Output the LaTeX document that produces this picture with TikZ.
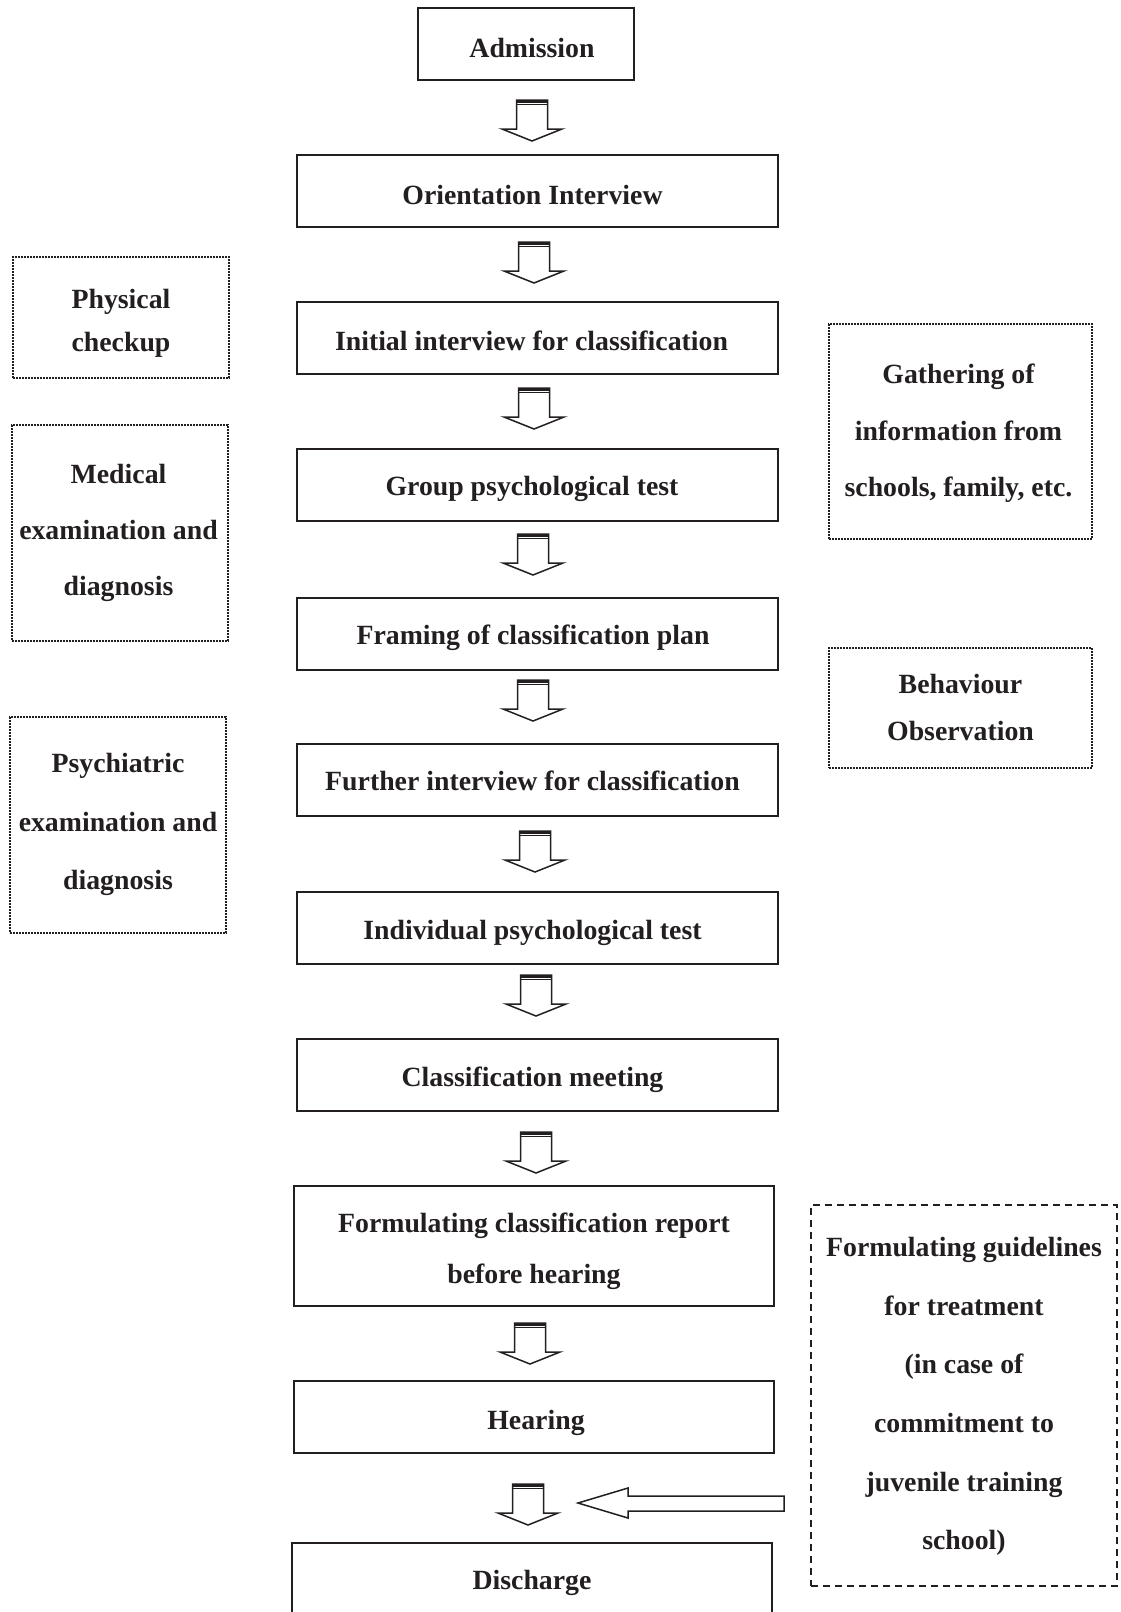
\documentclass[tikz,border=0pt]{standalone}
\usepackage{fontspec}
\setmainfont{Liberation Serif}
\usetikzlibrary{calc}
\definecolor{ink}{RGB}{35,31,32}
% single-line text with a small offset (dx, raise)
\newcommand\tx[3]{\hspace*{#1}\raisebox{#2}[\height][\depth]{#3}\hspace*{-#1}}
% multi-line text with a small offset (dx, raise)
\newcommand\tm[3]{\hspace*{#1}\raisebox{#2}[\height][\depth]{\begin{tabular}{@{}c@{}}#3\end{tabular}}\hspace*{-#1}}
\tikzset{
  every node/.style={text=ink},
  mainbox/.style={draw=ink, line width=1.8pt, inner sep=0pt,
    font=\bfseries\fontsize{27.8}{51}\selectfont},
  dotbox/.style={draw=ink, line width=1.8pt, dash pattern=on 1.6pt off 1.4pt,
    inner sep=0pt},
  dashbox/.style={draw=ink, line width=1.6pt, dash pattern=on 7pt off 5pt,
    inner sep=0pt},
  lsp/.style={font=\bfseries\fontsize{27.8}{#1}\selectfont},
  arrline/.style={draw=ink, line width=1.5pt, line join=miter, fill=white},
  blockdown/.pic={
    \draw[arrline] (-15.5,0) -- (-15.5,29) -- (-30,29) -- (0,41) -- (30,29) -- (15.5,29) -- (15.5,0) -- cycle;
    \draw[ink, line width=3pt] (-15.5,1.5) -- (15.5,1.5);
    \draw[ink, line width=1.2pt] (-15.5,4.8) -- (15.5,4.8);
  }
}
\begin{document}
\begin{tikzpicture}[x=1pt,y=-1pt]
\useasboundingbox (0,0) rectangle (1120,1612);

% main column
\node[mainbox, minimum width=216pt, minimum height=72pt] (adm) at (526,44) {\tx{6pt}{-4pt}{Admission}};
\node[mainbox, minimum width=481pt, minimum height=72pt] (orient) at (537.5,191) {\tx{-5pt}{-4pt}{Orientation Interview}};
\node[mainbox, minimum width=481pt, minimum height=72pt] (init) at (537.5,338) {\tx{-6pt}{-3pt}{Initial interview for classification}};
\node[mainbox, minimum width=481pt, minimum height=72pt] (group) at (537.5,485) {\tx{-5.5pt}{-4pt}{Group psychological test}};
\node[mainbox, minimum width=481pt, minimum height=72pt] (framing) at (537.5,634) {\tx{-4.5pt}{-4pt}{Framing of classification plan}};
\node[mainbox, minimum width=481pt, minimum height=72pt] (further) at (537.5,780) {\tx{-5pt}{-1pt}{Further interview for classification}};
\node[mainbox, minimum width=481pt, minimum height=72pt] (indiv) at (537.5,928) {\tx{-5pt}{-5pt}{Individual psychological test}};
\node[mainbox, minimum width=481pt, minimum height=72pt] (meeting) at (537.5,1075) {\tx{-5pt}{-5pt}{Classification meeting}};
\node[mainbox, minimum width=480pt, minimum height=120pt] (report) at (534,1246) {\tm{0pt}{-2.2pt}{Formulating classification report\\before hearing}};
\node[mainbox, minimum width=480pt, minimum height=72pt] (hearing) at (534,1417) {\tx{2pt}{-6pt}{Hearing}};
\node[mainbox, minimum width=480pt, minimum height=77pt] (discharge) at (532,1581.5) {\tx{0pt}{-1pt}{Discharge}};

% block arrows
\pic at (532,100) {blockdown};
\pic at (534,242) {blockdown};
\pic at (534,388) {blockdown};
\pic at (533,534) {blockdown};
\pic at (533,680) {blockdown};
\pic at (535,831) {blockdown};
\pic at (536,975) {blockdown};
\pic at (536,1132) {blockdown};
\pic at (530,1323) {blockdown};
\pic at (528,1484) {blockdown};

% left dotted boxes
\node[dotbox, lsp=43, minimum width=216pt, minimum height=121pt] (phys) at (121,317.5) {\tm{0pt}{-4.3pt}{Physical\\checkup}};
\node[dotbox, lsp=56, minimum width=216pt, minimum height=216pt] (med) at (120,533) {\tm{-1.5pt}{4.8pt}{Medical\\examination and\\diagnosis}};
\node[dotbox, lsp=58.5, minimum width=216pt, minimum height=216pt] (psych) at (118,825) {\tm{0pt}{5.3pt}{Psychiatric\\examination and\\diagnosis}};

% right dotted boxes
\node[dotbox, lsp=56.5, minimum width=263pt, minimum height=215pt] (gath) at (960.5,431.5) {\tm{-2pt}{2.4pt}{Gathering of\\information from\\schools, family, etc.}};
\node[dotbox, lsp=47, minimum width=263pt, minimum height=120pt] (behav) at (960.5,708) {\tm{0pt}{0pt}{Behaviour\\Observation}};

% dashed box
\node[dashbox, lsp=58.6, minimum width=306pt, minimum height=381pt] (guide) at (964,1395.5) {\tm{0pt}{4.1pt}{Formulating guidelines\\for treatment\\(in case of\\commitment to\\juvenile training\\school)}};

% horizontal block arrow
\coordinate (ltip) at (578,1503);
\draw[arrline] (ltip) -- (628,1488) -- (628,1496) -- (784,1496) -- (784,1511) -- (628,1511) -- (628,1518) -- cycle;
\end{tikzpicture}
\end{document}
